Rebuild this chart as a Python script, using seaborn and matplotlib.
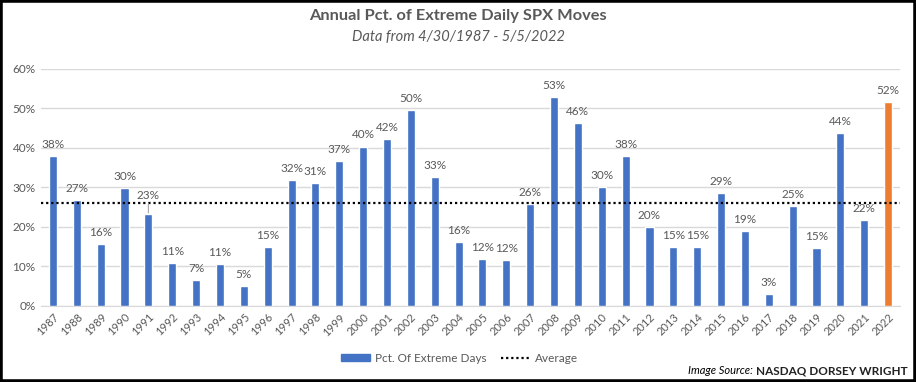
import matplotlib.pyplot as plt
import matplotlib.patches as mpatches
from matplotlib.lines import Line2D
import pandas as pd
import seaborn as sns

# data
years = [str(y) for y in range(1987, 2023)]
pct_extreme = [38.0, 26.8, 15.7, 29.9, 23.3, 10.9, 6.6, 10.6, 5.1, 14.9,
               31.9, 31.1, 36.6, 40.3, 42.3, 49.6, 32.6, 16.2, 11.9, 11.6,
               25.8, 52.9, 46.3, 30.1, 38.0, 20.0, 14.9, 14.9, 28.6, 19.0,
               3.0, 25.3, 14.7, 43.8, 21.8, 51.6]
average = 26.0
highlight_year = '2022'

df = pd.DataFrame({'year': years, 'pct': pct_extreme})
df['group'] = ['current' if y == highlight_year else 'past' for y in df.year]

sns.set_style('white')
plt.rcParams['font.family'] = ['Lato', 'DejaVu Sans']
text_color = '#595959'
dots = (0, (1, 1.3))

fig = plt.figure(figsize=(9.16, 3.82), dpi=100)
ax = fig.add_axes([0.0448, 0.199, 0.9377, 0.6204])

sns.barplot(data=df, x='year', y='pct', hue='group',
            palette={'past': '#4472C4', 'current': '#ED7D31'},
            dodge=False, width=0.34, saturation=1, legend=False, ax=ax, zorder=3)

# average line
ax.axhline(average, color='black', linestyle=dots, linewidth=1.6, zorder=4)

# data labels (1991 label is pushed up with a leader line, as in the original)
for i, v in enumerate(df.pct):
    if df.year[i] == '1991':
        ax.annotate(f'{v:.0f}%', xy=(i, v + 0.3), xytext=(i, v + 3.4),
                    ha='center', va='bottom', fontsize=8.5, color=text_color,
                    arrowprops=dict(arrowstyle='-', color='#A6A6A6', lw=0.8,
                                    shrinkA=0, shrinkB=0), zorder=5)
    else:
        ax.text(i, v + 1.6, f'{v:.0f}%', ha='center', va='bottom',
                fontsize=8.5, color=text_color, zorder=5)

ax.set_ylim(0, 60)
ax.set_xlim(-0.5, len(years) - 0.5)
ax.set_yticks(range(0, 61, 10))
ax.set_yticklabels([f'{t}%' for t in range(0, 61, 10)], fontsize=8.5, color=text_color)
ax.set_xticks(range(len(years)))
ax.set_xticklabels(years, rotation=45, ha='right', rotation_mode='anchor',
                   fontsize=8, color=text_color)
ax.tick_params(axis='both', length=0, pad=4)
ax.grid(axis='y', color='#D9D9D9', linewidth=1, zorder=0)
ax.set_xlabel('')
ax.set_ylabel('')
for s in ['top', 'right', 'left']:
    ax.spines[s].set_visible(False)
ax.spines['bottom'].set_color('#D9D9D9')

# titles
fig.text(0.5, 0.958, 'Annual Pct. of Extreme Daily SPX Moves', ha='center', va='center',
         fontsize=11.8, fontweight='bold', color=text_color)
fig.text(0.5, 0.902, 'Data from 4/30/1987 - 5/5/2022', ha='center', va='center',
         fontsize=10.5, style='italic', color=text_color)

# legend
handles = [mpatches.Patch(color='#4472C4', label='Pct. Of Extreme Days'),
           Line2D([0], [0], color='black', linestyle=dots, linewidth=1.6, label='Average')]
fig.legend(handles=handles, loc='center', bbox_to_anchor=(0.502, 0.062), ncol=2,
           frameon=False, fontsize=8.5, labelcolor=text_color,
           handlelength=2.4, handleheight=0.5, handletextpad=0.5, columnspacing=1.2)

# source note, placed right-aligned; label is set just left of the brand text
brand = fig.text(0.991, 0.03, 'NASDAQ DORSEY WRIGHT', ha='right', va='center',
                 fontsize=8.5, fontweight='bold', color='#222222')
fig.canvas.draw()
bb = brand.get_window_extent().transformed(fig.transFigure.inverted())
fig.text(bb.x0 - 0.004, 0.03, 'Image Source:', ha='right', va='center', fontsize=8,
         style='italic', color='black')

# black frame around the image
fig.patches.append(mpatches.Rectangle((0, 0), 1, 1, transform=fig.transFigure,
                                      fill=False, edgecolor='black', linewidth=4))

fig.savefig('out.png', dpi=100)
